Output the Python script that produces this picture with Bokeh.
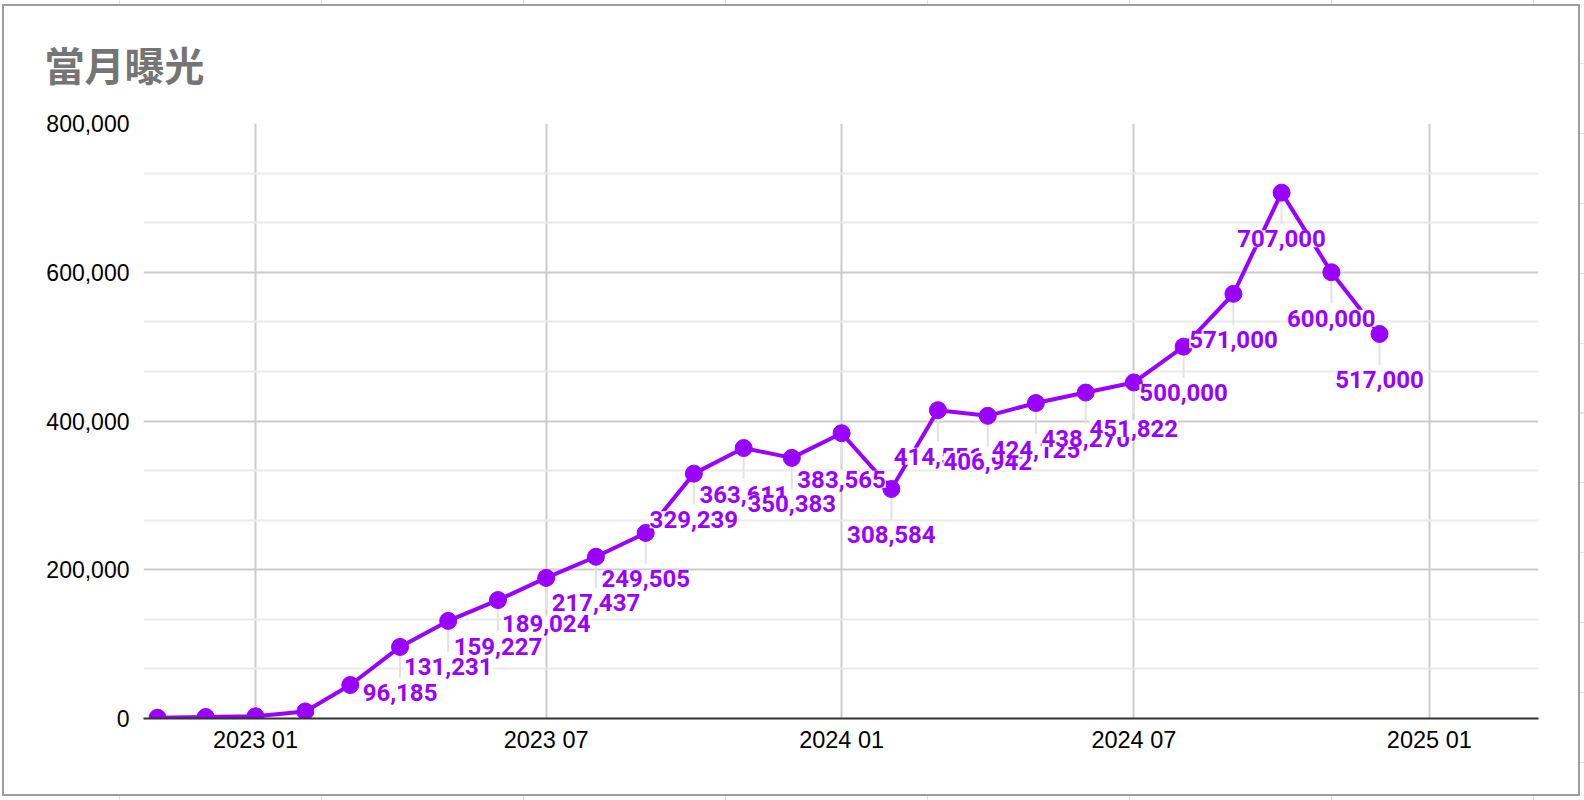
from datetime import datetime
import math
from bokeh.plotting import figure
from bokeh.models import (Range1d, FixedTicker, NumeralTickFormatter, DatetimeTickFormatter,
                          ColumnDataSource, Text, InlineStyleSheet)
from bokeh.core.properties import value
from bokeh.embed import file_html
from bokeh.resources import INLINE

# ---------------- data ----------------
months = ["2022-11", "2022-12", "2023-01", "2023-02", "2023-03", "2023-04", "2023-05",
          "2023-06", "2023-07", "2023-08", "2023-09", "2023-10", "2023-11", "2023-12",
          "2024-01", "2024-02", "2024-03", "2024-04", "2024-05", "2024-06", "2024-07",
          "2024-08", "2024-09", "2024-10", "2024-11", "2024-12"]
impressions = [1000, 2000, 3000, 9500, 45000, 96185, 131231, 159227, 189024, 217437,
               249505, 329239, 363611, 350383, 383565, 308584, 414556, 406942, 424125,
               438270, 451822, 500000, 571000, 707000, 600000, 517000]
show_label = [False] * 5 + [True] * 21
title_text = "當月曝光"
x_tick_dates = ["2023-01", "2023-07", "2024-01", "2024-07", "2025-01"]
y_ticks = [0, 200000, 400000, 600000, 800000]

PURPLE = "#9900ff"
EPOCH = datetime(1970, 1, 1)

dates = [datetime.strptime(m, "%Y-%m") for m in months]
tick_ms = [(datetime.strptime(t, "%Y-%m") - EPOCH).total_seconds() * 1000 for t in x_tick_dates]
minor_y = [y_ticks[i] + k * (y_ticks[i + 1] - y_ticks[i]) / 3
           for i in range(len(y_ticks) - 1) for k in (1, 2)]

p = figure(width=1584, height=800, x_axis_type="datetime",
           x_range=Range1d(datetime(2022, 10, 23, 6), datetime(2025, 3, 10)),
           y_range=Range1d(0, 800000),
           output_backend="svg", toolbar_location=None,
           min_border_left=143, min_border_right=46, min_border_top=123, min_border_bottom=82)
p.outline_line_color = None
p.background_fill_color = "white"
p.border_fill_color = "white"

# chart frame border and the faint sheet grid around it (page decoration)
sheet_cols = "repeating-linear-gradient(90deg, transparent 0 119px, #e2e2e2 119px 120px, transparent 120px 202px)"
sheet_rows = "repeating-linear-gradient(180deg, transparent 0 63px, #e2e2e2 63px 64px, transparent 64px 69.9px)"
css = f"""
:host::before {{
  content: ""; position: absolute; left: 0; top: 0; width: 1584px; height: 800px;
  pointer-events: none; z-index: 99;
  background-image: {sheet_cols}, {sheet_cols}, {sheet_rows};
  background-size: 100% 4px, 100% 4px, 4px 100%;
  background-position: left top, left bottom, right top;
  background-repeat: no-repeat;
}}
:host::after {{
  content: ""; position: absolute; left: 2px; top: 4px; width: 1574px; height: 788px;
  border: 2px solid #9e9e9e; pointer-events: none; z-index: 100;
}}
"""
p.stylesheets = [InlineStyleSheet(css=css)]

# title
p.title.text = title_text
p.title.text_font = "Noto Sans CJK TC"
p.title.text_font_size = "40px"
p.title.text_font_style = "bold"
p.title.text_color = "#757575"
p.title.align = "left"
p.title.offset = -99
p.title.standoff = 62

# axes
p.xaxis.ticker = FixedTicker(ticks=tick_ms)
fmt = "%Y %m"
p.xaxis.formatter = DatetimeTickFormatter(microseconds=fmt, milliseconds=fmt, seconds=fmt,
                                          minsec=fmt, minutes=fmt, hourmin=fmt, hours=fmt,
                                          days=fmt, months=fmt, years=fmt)
p.yaxis.ticker = FixedTicker(ticks=y_ticks, minor_ticks=minor_y)
p.yaxis.formatter = NumeralTickFormatter(format="0,0")

for ax in (p.xaxis[0], p.yaxis[0]):
    ax.major_tick_line_color = None
    ax.minor_tick_line_color = None
    ax.major_tick_out = 0
    ax.major_tick_in = 0
    ax.minor_tick_out = 0
    ax.major_label_text_font = "Liberation Sans"
    ax.major_label_text_font_size = "23px"
    ax.major_label_text_color = "#000000"
p.xaxis.axis_line_color = "#333333"
p.xaxis.axis_line_width = 2
p.xaxis.major_label_standoff = 8
p.xaxis.major_label_text_font_size = "23.5px"
p.yaxis.axis_line_color = None
p.yaxis.major_label_standoff = 14

p.xgrid.grid_line_color = "#cccccc"
p.xgrid.grid_line_width = 2
p.ygrid.grid_line_color = "#cccccc"
p.ygrid.grid_line_width = 2
p.ygrid.minor_grid_line_color = "#ebebeb"
p.ygrid.minor_grid_line_width = 2

# stems
stem_x = [d for d, s in zip(dates, show_label) if s]
stem_y = [v for v, s in zip(impressions, show_label) if s]
p.ray(x=stem_x, y=stem_y, length=31, length_units="screen", angle=-math.pi / 2,
      line_color="#e3e3e3", line_width=2)

# line + points
p.line(dates, impressions, line_color=PURPLE, line_width=4)
p.scatter(dates, impressions, size=17, fill_color=PURPLE, line_color=PURPLE)

# value labels, drawn in order so later labels cover earlier ones
has_bg = "background_fill_color" in Text.properties()
for d, v, s in zip(dates, impressions, show_label):
    if not s:
        continue
    src = ColumnDataSource(dict(x=[d], y=[v], t=[f"{v:,}"]))
    common = dict(x="x", y="y", text="t", text_font=value("Roboto"), text_font_style="bold",
                  text_font_size="24px", text_align="center", text_baseline="alphabetic",
                  y_offset=46, source=src)
    if has_bg:
        p.text(text_color=PURPLE, background_fill_color="white", **common)
    else:
        p.text(text_color=PURPLE, **common)

open("out.html", "w").write(file_html(p, INLINE))
